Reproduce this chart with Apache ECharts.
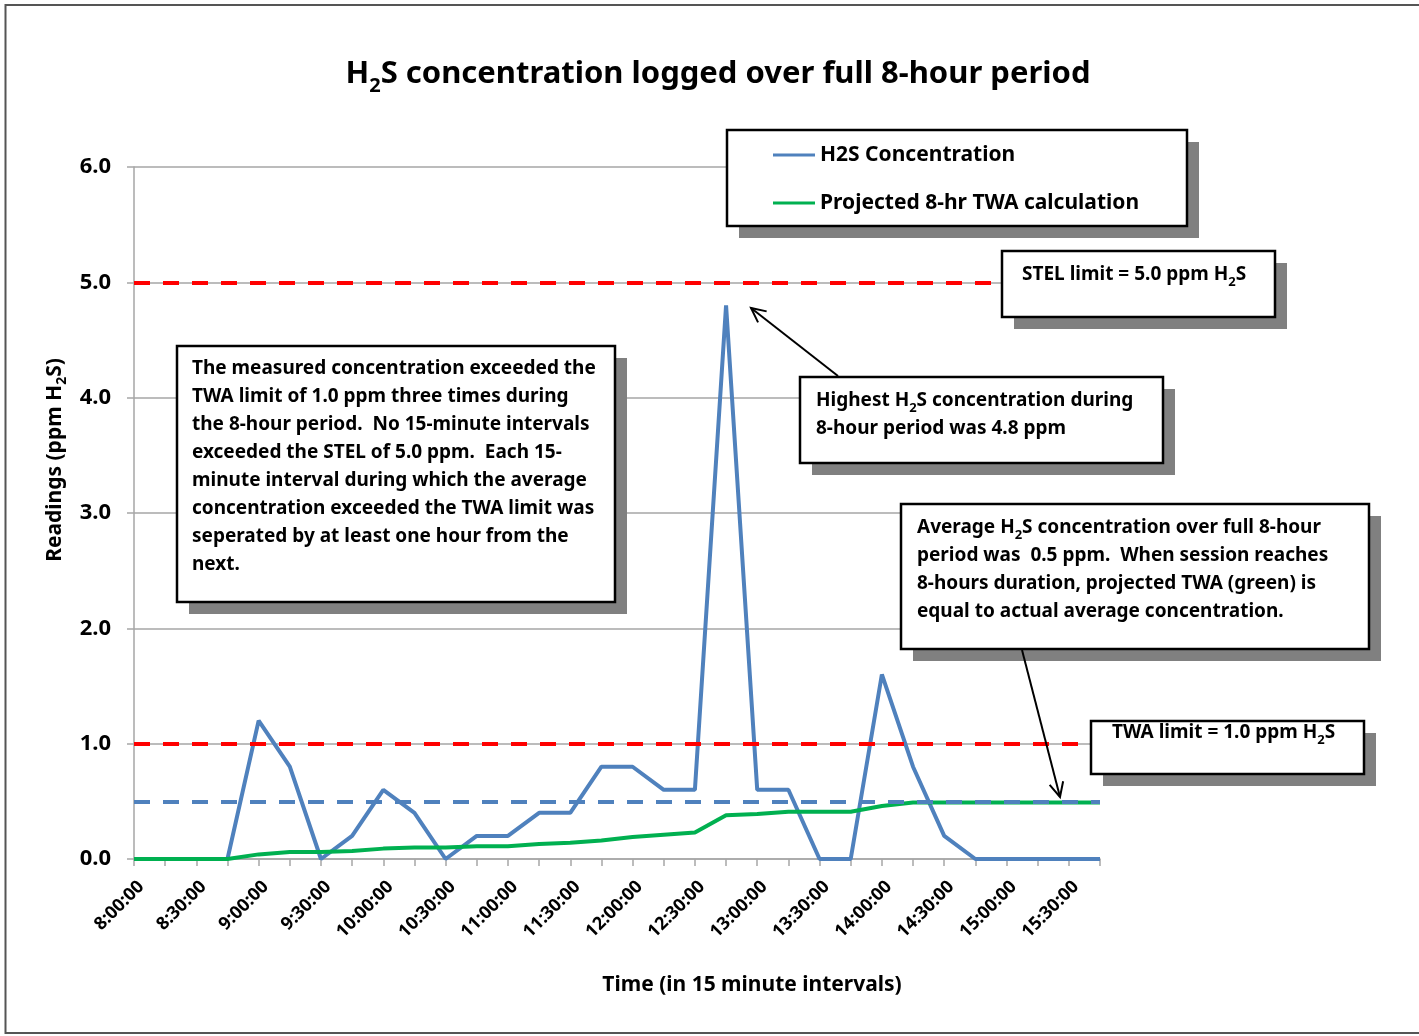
<!DOCTYPE html>
<html>
<head>
<meta charset="utf-8">
<title>H2S concentration</title>
<script src="https://cdn.jsdelivr.net/npm/echarts@6/dist/echarts.min.js"></script>
<style>
  html, body { margin: 0; padding: 0; background: #fff; }
  #chart { width: 1419px; height: 1036px; }
</style>
</head>
<body>
<div id="chart"></div>
<script>
var times = ['8:00:00', '8:15:00', '8:30:00', '8:45:00', '9:00:00', '9:15:00', '9:30:00', '9:45:00',
    '10:00:00', '10:15:00', '10:30:00', '10:45:00', '11:00:00', '11:15:00', '11:30:00', '11:45:00',
    '12:00:00', '12:15:00', '12:30:00', '12:45:00', '13:00:00', '13:15:00', '13:30:00', '13:45:00',
    '14:00:00', '14:15:00', '14:30:00', '14:45:00', '15:00:00', '15:15:00', '15:30:00', '15:45:00'];
var h2s = [0, 0, 0, 0, 1.2, 0.8, 0, 0.2, 0.6, 0.4, 0, 0.2, 0.2, 0.4, 0.4, 0.8,
    0.8, 0.6, 0.6, 4.8, 0.6, 0.6, 0, 0, 1.6, 0.8, 0.2, 0, 0, 0, 0, 0];
var twa = [0, 0, 0, 0, 0.04, 0.06, 0.06, 0.07, 0.09, 0.1, 0.1, 0.11, 0.11, 0.13, 0.14, 0.16,
    0.19, 0.21, 0.23, 0.38, 0.39, 0.41, 0.41, 0.41, 0.46, 0.49, 0.49, 0.49, 0.49, 0.49, 0.49, 0.49];
var stelLimit = 5.0;
var twaLimit = 1.0;
var average = 0.5;
var yTicks = [0, 6, 1];   // min, max, interval

var FONT = '"Noto Sans"';
var sub = function (size, pad) {
    return { fontSize: size, fontWeight: 'bold', fontFamily: FONT, lineHeight: size, padding: [pad, 0, 0, 0] };
};

function box(x, y, w, h) {
    return [
        { type: 'rect', z: 50, shape: { x: x + 12, y: y + 12, width: w, height: h }, style: { fill: '#808080' } },
        { type: 'rect', z: 51, shape: { x: x, y: y, width: w, height: h }, style: { fill: '#fff', stroke: '#000', lineWidth: 2.5 } }
    ];
}

function note(x, y, text) {
    return {
        type: 'text', z: 52, x: x, y: y,
        style: {
            text: text, fill: '#000', fontSize: 19, fontWeight: 'bold', fontFamily: FONT,
            lineHeight: 28, verticalAlign: 'top', rich: { s: sub(13, 14) }
        }
    };
}

function arrow(x1, y1, x2, y2) {
    var a = Math.atan2(y2 - y1, x2 - x1), L = 16, w = 0.45;
    return [
        { type: 'line', z: 53, shape: { x1: x1, y1: y1, x2: x2, y2: y2 }, style: { stroke: '#000', lineWidth: 2 } },
        { type: 'polyline', z: 53, shape: { points: [
            [x2 - L * Math.cos(a - w), y2 - L * Math.sin(a - w)], [x2, y2],
            [x2 - L * Math.cos(a + w), y2 - L * Math.sin(a + w)]] },
          style: { stroke: '#000', lineWidth: 2, fill: null } }
    ];
}

var graphics = [].concat(
    [{ type: 'rect', z: 0, silent: true, shape: { x: 5.5, y: 5, width: 1500, height: 1028 }, style: { fill: null, stroke: '#555', lineWidth: 2 } }],
    [{ type: 'text', z: 52, x: 718, y: 74, style: {
        text: 'H{s|2}S concentration logged over full 8-hour period', fill: '#000',
        fontSize: 31, fontWeight: 'bold', fontFamily: FONT, lineHeight: 50,
        align: 'center', verticalAlign: 'middle', rich: { s: sub(20, 24) } } }],
    [{ type: 'text', z: 52, x: 752, y: 985, style: {
        text: 'Time (in 15 minute intervals)', fill: '#000', fontSize: 21, fontWeight: 'bold', fontFamily: FONT,
        align: 'center', verticalAlign: 'middle' } }],
    [{ type: 'text', z: 52, x: 55, y: 460, rotation: Math.PI / 2, style: {
        text: 'Readings (ppm H{s|2}S)', fill: '#000', fontSize: 21, fontWeight: 'bold', fontFamily: FONT,
        lineHeight: 30, align: 'center', verticalAlign: 'middle', rich: { s: sub(14, 14) } } }],
    box(727, 130, 460, 96),
    box(1002, 251, 273, 66),
    note(1022, 261, 'STEL limit = 5.0 ppm H{s|2}S'),
    box(177, 346, 438, 256),
    note(192, 355, 'The measured concentration exceeded the\nTWA limit of 1.0 ppm three times during\nthe 8-hour period.  No 15-minute intervals\nexceeded the STEL of 5.0 ppm.  Each 15-\nminute interval during which the average\nconcentration exceeded the TWA limit was\nseperated by at least one hour from the\nnext.'),
    box(800, 377, 363, 86),
    note(816, 387, 'Highest H{s|2}S concentration during\n8-hour period was 4.8 ppm'),
    box(901, 504, 468, 145),
    note(917, 514, 'Average H{s|2}S concentration over full 8-hour\nperiod was  0.5 ppm.  When session reaches\n8-hours duration, projected TWA (green) is\nequal to actual average concentration.'),
    box(1091, 721, 273, 53),
    note(1112, 719, 'TWA limit = 1.0 ppm H{s|2}S'),
    arrow(838, 376, 751, 308),
    arrow(1022, 650, 1060, 797)
);

var option = {
    backgroundColor: '#fff',
    animation: false,
    textStyle: { fontFamily: FONT, fontWeight: 'bold', color: '#000' },
    grid: { left: 134, right: 319, top: 167, bottom: 177 },
    legend: {
        z: 60,
        orient: 'vertical',
        left: 773,
        top: 143,
        padding: 0,
        icon: 'rect',
        itemWidth: 42,
        itemHeight: 3,
        itemGap: 24,
        data: ['H2S Concentration', 'Projected 8-hr TWA calculation'],
        textStyle: { fontSize: 21, lineHeight: 24, fontWeight: 'bold', fontFamily: FONT, color: '#000', padding: [0, 0, 0, 0] }
    },
    xAxis: {
        type: 'category',
        data: times,
        boundaryGap: false,
        axisLine: { lineStyle: { color: '#a6a6a6', width: 1.5 } },
        axisTick: { show: true, interval: 0, length: 7, lineStyle: { color: '#a6a6a6', width: 1.5 } },
        axisLabel: { interval: 1, rotate: 45, margin: 32, padding: [0, -10, 0, 0],
            fontSize: 18, fontWeight: 'bold', fontFamily: FONT, color: '#000' },
        splitLine: { show: false }
    },
    yAxis: {
        type: 'value',
        min: yTicks[0], max: yTicks[1], interval: yTicks[2],
        axisLine: { show: true, lineStyle: { color: '#a6a6a6', width: 1.5 } },
        axisTick: { show: true, length: 7, lineStyle: { color: '#a6a6a6', width: 1.5 } },
        axisLabel: { margin: 23, fontSize: 22, fontWeight: 'bold', fontFamily: FONT, color: '#000',
            formatter: function (v) { return v.toFixed(1); } },
        splitLine: { lineStyle: { color: '#a6a6a6', width: 1.5 } }
    },
    series: [
        {
            name: 'H2S Concentration',
            type: 'line',
            data: h2s,
            symbol: 'none',
            color: '#4f81bd',
            lineStyle: { color: '#4f81bd', width: 4 }
        },
        {
            name: 'Projected 8-hr TWA calculation',
            type: 'line',
            data: twa,
            symbol: 'none',
            color: '#00b050',
            lineStyle: { color: '#00b050', width: 4 }
        },
        {
            name: 'limits',
            type: 'line',
            data: [],
            markLine: {
                silent: true,
                symbol: 'none',
                label: { show: false },
                data: [
                    { yAxis: stelLimit, lineStyle: { color: '#ff0000', width: 4, type: [16, 13] } },
                    { yAxis: twaLimit, lineStyle: { color: '#ff0000', width: 4, type: [16, 13] } },
                    { yAxis: average, lineStyle: { color: '#4f81bd', width: 4, type: [16, 13] } }
                ]
            }
        }
    ],
    graphic: graphics
};

var chart = echarts.init(document.getElementById('chart'));
chart.setOption(option);
</script>
</body>
</html>
